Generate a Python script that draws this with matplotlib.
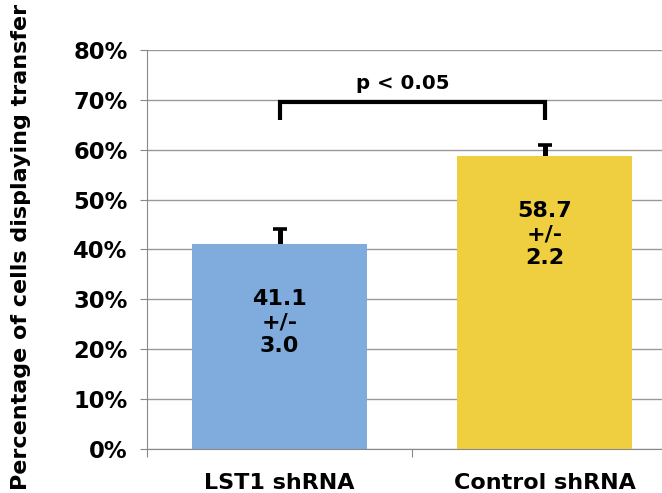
import numpy as np
import matplotlib
matplotlib.use("Agg")
import matplotlib.pyplot as plt

# data
groups = ["LST1 shRNA", "Control shRNA"]
means = [41.1, 58.7]
errs = [3.0, 2.2]
bar_colors = ["#7FACDD", "#EFCE40"]
label_y = [25.4, 43.0]

plt.rcParams['font.family'] = ['DejaVu Sans']
plt.rcParams['font.weight'] = 'bold'

fig = plt.figure(figsize=(6.62, 4.93), dpi=100)
# axes runs slightly past the right edge, like the original slide
ax = fig.add_axes([147 / 662, 1 - 449 / 493, 530 / 662, 399 / 493])

x = np.arange(len(groups))
ax.bar(x, means, width=0.664, color=bar_colors, zorder=2)
# drawn under the bars so only the upper half shows
ax.errorbar(x, means, yerr=errs, fmt='none',
            ecolor='black', elinewidth=3.6, capsize=4.8, capthick=2.6, zorder=1.8)

for xi, m, e, ly in zip(x, means, errs, label_y):
    ax.text(xi, ly, f"{m}\n+/-\n{e}", ha='center', va='center',
            fontsize=16, fontweight='bold', linespacing=1.2, zorder=4)

# significance bracket
ax.plot([0, 0, 1, 1], [66, 69.5, 69.5, 66], color='black', lw=3,
        solid_capstyle='butt', solid_joinstyle='miter', zorder=4, clip_on=False)
ax.text(0.465, 73.3, "p < 0.05", ha='center', va='center', fontsize=14.2,
        fontweight='bold')

ax.set_xlim(-0.5, 1.5)
ax.set_ylim(0, 80)
ax.set_yticks(np.arange(0, 81, 10))
ax.set_yticklabels([f"{v}%" for v in range(0, 81, 10)], fontsize=16.3,
                   fontweight='bold')
ax.set_xticks([-0.5, 0.5, 1.5], minor=False)
ax.set_xticklabels([])
ax.set_xticks(x, minor=True)
ax.set_xticklabels(groups, minor=True, fontsize=16, fontweight='bold')
ax.tick_params(axis='x', which='minor', length=0, pad=17)
ax.tick_params(axis='x', which='major', length=6, color='#888888')
ax.tick_params(axis='y', length=5, color='#888888', pad=9)

ax.yaxis.grid(True, color='#999999', lw=1)
for s in ['top', 'right']:
    ax.spines[s].set_visible(False)
ax.spines['left'].set_color('#888888')
ax.spines['bottom'].set_color('#888888')

fig.text(0.031, 0.500, "Percentage of cells displaying transfer", rotation=90,
         ha='center', va='center', fontsize=16, fontweight='bold')

fig.savefig("out.png", dpi=100)
